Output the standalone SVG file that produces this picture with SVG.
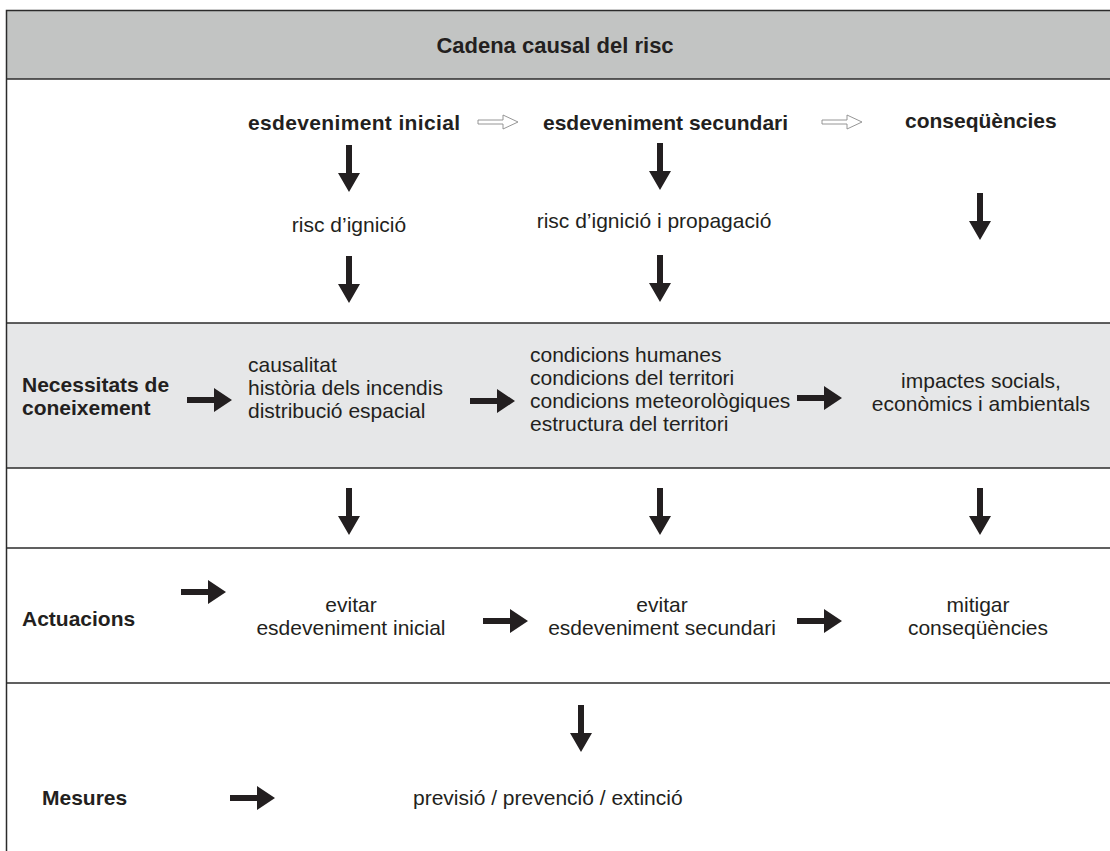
<svg xmlns="http://www.w3.org/2000/svg" width="1110" height="851" viewBox="0 0 1110 851">
  <style>
    text { font-family: "Liberation Sans", Arial, sans-serif; fill: #231f20; font-size: 21px; }
    .b { font-weight: bold; }
    .title { font-size: 22px; font-weight: bold; }
    .mid { text-anchor: middle; }
    .rule { stroke: #2b2b2b; stroke-width: 1.5; fill: none; }
    .arrow { fill: #231f20; }
    .hollow { fill: #ffffff; stroke: #8a8a8a; stroke-width: 0.9; }
  </style>
  <defs>
    <!-- solid arrow pointing down, tip at (0,0) -->
    <path id="down" d="M-3,-47 H3 V-19 H11 L0,0 L-11,-19 H-3 Z"/>
    <!-- solid arrow pointing right, tip at (0,0) -->
    <path id="right" d="M-45,-3 H-18 V-12 L0,0 L-18,12 V3 H-45 Z"/>
    <!-- outlined double-shaft arrow pointing right, tip at (0,0) -->
    <path id="hollowRight" d="M-40,-2 H-15 V-7 L0,0 L-15,7 V2 H-40 Z"/>
  </defs>

  <rect x="0" y="0" width="1110" height="851" fill="#ffffff"/>

  <!-- bands and frame -->
  <g id="frame">
    <rect x="6.5" y="10.5" width="1110" height="68.5" fill="#c2c4c3"/>
    <rect x="6.5" y="323" width="1110" height="145" fill="#e6e7e8"/>
    <path class="rule" d="M6.5,851 V10.5 H1110"/>
    <path class="rule" d="M6.5,79 H1110"/>
    <path class="rule" d="M6.5,323 H1110"/>
    <path class="rule" d="M6.5,468 H1110"/>
    <path class="rule" d="M6.5,548 H1110"/>
    <path class="rule" d="M6.5,683 H1110"/>
  </g>

  <g id="title">
    <text class="title mid" x="555" y="53">Cadena causal del risc</text>
  </g>

  <!-- causal chain -->
  <g id="event-initial">
    <text class="b" x="248" y="130" textLength="212">esdeveniment inicial</text>
  </g>
  <g id="event-secondary">
    <text class="b" x="543" y="130">esdeveniment secundari</text>
  </g>
  <g id="consequences">
    <text class="b" x="905" y="128">conseqüències</text>
  </g>
  <g id="risk-ignition">
    <text class="mid" x="349" y="232">risc d’ignició</text>
  </g>
  <g id="risk-propagation">
    <text class="mid" x="654" y="228">risc d’ignició i propagació</text>
  </g>

  <!-- knowledge needs -->
  <g id="label-knowledge">
    <text class="b" x="22" y="392">Necessitats de</text>
    <text class="b" x="22" y="415">coneixement</text>
  </g>
  <g id="knowledge-initial">
    <text x="248" y="372">causalitat</text>
    <text x="248" y="395">història dels incendis</text>
    <text x="248" y="418">distribució espacial</text>
  </g>
  <g id="knowledge-secondary">
    <text x="530" y="362">condicions humanes</text>
    <text x="530" y="385">condicions del territori</text>
    <text x="530" y="408">condicions meteorològiques</text>
    <text x="530" y="431">estructura del territori</text>
  </g>
  <g id="knowledge-consequences">
    <text class="mid" x="981" y="388">impactes socials,</text>
    <text class="mid" x="981" y="411">econòmics i ambientals</text>
  </g>

  <!-- actions -->
  <g id="label-actions">
    <text class="b" x="22" y="626">Actuacions</text>
  </g>
  <g id="action-initial">
    <text class="mid" x="351" y="612">evitar</text>
    <text class="mid" x="351" y="635">esdeveniment inicial</text>
  </g>
  <g id="action-secondary">
    <text class="mid" x="662" y="612">evitar</text>
    <text class="mid" x="662" y="635">esdeveniment secundari</text>
  </g>
  <g id="action-consequences">
    <text class="mid" x="978" y="612">mitigar</text>
    <text class="mid" x="978" y="635">conseqüències</text>
  </g>

  <!-- measures -->
  <g id="label-measures">
    <text class="b" x="42" y="805">Mesures</text>
  </g>
  <g id="measures">
    <text x="413" y="805">previsió / prevenció / extinció</text>
  </g>

  <!-- connectors -->
  <g id="connectors">
    <use href="#hollowRight" class="hollow" x="518" y="122"/>
    <use href="#hollowRight" class="hollow" x="862" y="122"/>

    <use href="#down" class="arrow" x="349" y="192"/>
    <use href="#down" class="arrow" x="349" y="303"/>
    <use href="#down" class="arrow" x="660" y="190"/>
    <use href="#down" class="arrow" x="660" y="302"/>
    <use href="#down" class="arrow" x="980" y="240"/>

    <use href="#right" class="arrow" x="232" y="400"/>
    <use href="#right" class="arrow" x="515" y="401"/>
    <use href="#right" class="arrow" x="842" y="398"/>

    <use href="#down" class="arrow" x="349" y="535"/>
    <use href="#down" class="arrow" x="660" y="535"/>
    <use href="#down" class="arrow" x="980" y="535"/>

    <use href="#right" class="arrow" x="226" y="592"/>
    <use href="#right" class="arrow" x="528" y="621"/>
    <use href="#right" class="arrow" x="842" y="621"/>

    <use href="#down" class="arrow" x="581" y="752"/>
    <use href="#right" class="arrow" x="275" y="798"/>
  </g>
</svg>
